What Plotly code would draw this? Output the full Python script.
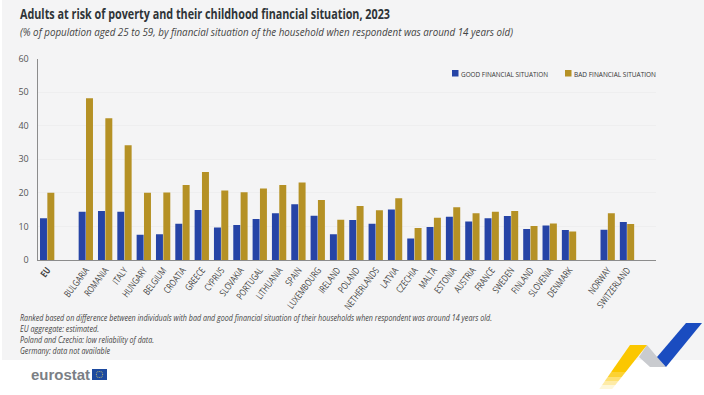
import math
import json
import plotly.graph_objects as go

categories = ["EU", " ", "BULGARIA", "ROMANIA", "ITALY", "HUNGARY", "BELGIUM", "CROATIA", "GREECE", "CYPRUS",
              "SLOVAKIA", "PORTUGAL", "LITHUANIA", "SPAIN", "LUXEMBOURG", "IRELAND", "POLAND", "NETHERLANDS",
              "LATVIA", "CZECHIA", "MALTA", "ESTONIA", "AUSTRIA", "FRANCE", "SWEDEN", "FINLAND", "SLOVENIA",
              "DENMARK", "  ", "NORWAY", "SWITZERLAND", "   "]
good = [12.4, None, 14.4, 14.6, 14.4, 7.5, 7.7, 10.8, 14.9, 9.7, 10.4, 12.2, 13.9, 16.6, 13.2, 7.7, 11.9, 10.8,
        15.0, 6.4, 9.8, 12.9, 11.5, 12.4, 13.1, 9.2, 10.3, 8.9, None, 9.0, 11.3, None]
bad = [20.0, None, 48.2, 42.2, 34.2, 20.0, 20.1, 22.3, 26.2, 20.7, 20.2, 21.3, 22.3, 23.1, 17.9, 12.0, 16.1, 14.8,
       18.4, 9.5, 12.6, 15.7, 13.9, 14.4, 14.6, 10.1, 10.9, 8.5, None, 13.9, 10.7, None]
tick_labels = ["<b>EU</b>" if c == "EU" else c for c in categories]
y_ticks = [0, 10, 20, 30, 40, 50, 60]
good_name = "GOOD FINANCIAL SITUATION"
bad_name = "BAD FINANCIAL SITUATION"
title = "Adults at risk of poverty and their childhood financial situation, 2023"
subtitle = "(% of population aged 25 to 59, by financial situation of the household when respondent was around 14 years old)"
notes = ["Ranked based on difference between individuals with bad and good financial situation of their households when respondent was around 14 years old.",
         "EU aggregate: estimated.",
         "Poland and Czechia: low reliability of data.",
         "Germany: data not available"]

W, H = 704, 395
FONT = "Open Sans, Noto Sans, sans-serif"
GOOD_C, BAD_C = "#2644a6", "#b59125"
px = lambda v: v / W
py = lambda v: 1 - v / H

fig = go.Figure()
fig.add_bar(x=categories, y=good, name=good_name, marker=dict(color=GOOD_C, line_width=0))
fig.add_bar(x=categories, y=bad, name=bad_name, marker=dict(color=BAD_C, line_width=0))

def rect(x0, y0, x1, y1, color, layer="above"):
    return dict(type="rect", xref="paper", yref="paper", x0=px(x0), x1=px(x1), y0=py(y1), y1=py(y0),
                fillcolor=color, line_width=0, layer=layer)

def poly(pts, color, opacity=1):
    d = "M" + " L".join(f"{px(a):.5f},{py(b):.5f}" for a, b in pts) + " Z"
    return dict(type="path", path=d, xref="paper", yref="paper", fillcolor=color, opacity=opacity, line_width=0)

shapes = [rect(2, 0, 704, 360, "#f4f4f5", "below"),
          rect(92, 369, 107, 380, "#1d4a9f"),
          rect(452, 70, 458.5, 76.5, GOOD_C),
          rect(565, 70, 571.5, 76.5, BAD_C)]
for k in range(12):
    a = k * math.pi / 6
    cx, cy = 99.5 + 3.2 * math.cos(a), 374.5 + 3.2 * math.sin(a)
    shapes.append(rect(cx - .4, cy - .4, cx + .4, cy + .4, "#d9cf6a"))

shapes.append(poly([(639, 357), (647, 345), (658, 358), (666, 367), (650, 367)], "#c9cbcf"))
shapes.append(poly([(686, 323), (702, 323), (666, 367), (657, 357)], "#1a4cc0"))
steps = [(345, 372, 1), (372, 377, .8), (377, 381, .55), (381, 385, .35), (385, 389, .15)]
for y0, y1, op in steps:
    xl = lambda y: 630 - (y - 345) * 30 / 43
    xr = lambda y: 647 - (y - 345) * 34 / 43
    shapes.append(poly([(xl(y0), y0), (xr(y0), y0), (xr(y1), y1), (xl(y1), y1)], "#fbc700", op))

def text(x, y, s, size, color="#444", family=FONT):
    return dict(x=px(x - 2), y=py(y), xref="paper", yref="paper", xanchor="left", yanchor="middle", showarrow=False,
                text=s, align="left", font=dict(size=size, color=color, family=family))

# target pixel widths for the condensed look of the reference typeface
ann = [text(20, 13, f"<b>{title}</b>", 15, "#2f3438"),
       text(20, 32, f"<i>{subtitle}</i>", 11, "#444"),
       text(31, 374, "<b>eurostat</b>", 15, "#7b7f85", "Liberation Sans, sans-serif"),
       text(461, 73.5, good_name, 8, "#333"),
       text(574, 73.5, bad_name, 8, "#333")]
widths = [370, 493, 59, 87, 82, 472, 79, 134, 90]
for i, n in enumerate(notes):
    ann.append(text(20, 317 + i * 11, f"<i>{n}</i>", 8.5, "#444"))

fig.update_layout(
    width=W, height=H, margin=dict(l=0, r=0, t=0, b=0), paper_bgcolor="white", plot_bgcolor="rgba(0,0,0,0)",
    barmode="group", bargap=0.24, bargroupgap=0.05, shapes=shapes, annotations=ann, showlegend=False,
    font=dict(family=FONT, color="#444"),
    xaxis=dict(domain=[px(37.5), px(656)], type="category", categoryorder="array", categoryarray=categories,
               tickmode="array", tickvals=categories, ticktext=tick_labels, tickangle=-53, ticks="", automargin=False,
               tickfont=dict(size=9.5, color="#444"), showline=True, linecolor="#8c8c8c", linewidth=1, showgrid=False),
    yaxis=dict(domain=[py(260), py(58.5)], range=[0, 60], tickvals=y_ticks, tickfont=dict(size=9, color="#555"),
               automargin=False, showline=True, linecolor="#8c8c8c", linewidth=1, gridcolor="#eeeeef", gridwidth=1,
               zeroline=False, ticks="outside", ticklen=6, tickcolor="rgba(0,0,0,0)"),
)
post = """
document.body.style.margin='0';
setTimeout(function(){
  var w = %s;
  document.querySelectorAll('.annotation-text').forEach(function(t,i){
    var b = t.getBBox();
    t.setAttribute('text-anchor','start');
    t.setAttribute('x', b.x);
    t.setAttribute('textLength', w[i]);
    t.setAttribute('lengthAdjust','spacingAndGlyphs');
  });
  document.querySelectorAll('.xtick text').forEach(function(t){
    t.setAttribute('textLength', t.getComputedTextLength()*0.76);
    t.setAttribute('lengthAdjust','spacingAndGlyphs');
  });
},0);
""" % json.dumps(widths)
fig.write_html("out.html", config=dict(displayModeBar=False), post_script=post)
